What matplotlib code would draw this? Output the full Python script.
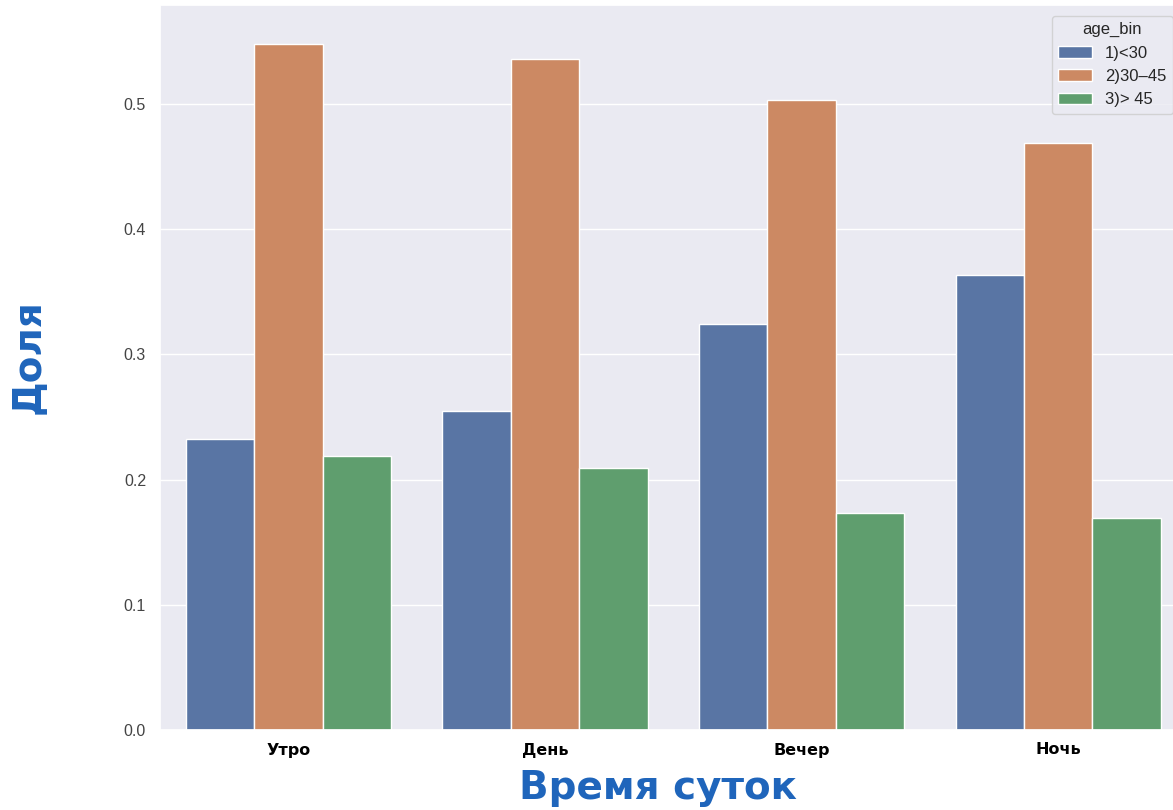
import matplotlib
matplotlib.use("Agg")
import matplotlib.pyplot as plt
import pandas as pd
import seaborn as sns

# Share of each age group by time of day
periods = ["Утро", "День", "Вечер", "Ночь"]
age_bins = ["1)<30", "2)30–45", "3)> 45"]
share_lt30 = [0.232, 0.255, 0.324, 0.363]
share_30_45 = [0.548, 0.536, 0.503, 0.469]
share_gt45 = [0.219, 0.209, 0.173, 0.169]

rows = []
for bin_name, values in zip(age_bins, [share_lt30, share_30_45, share_gt45]):
    for period, v in zip(periods, values):
        rows.append({"time": period, "age_bin": bin_name, "share": v})
df = pd.DataFrame(rows)

sns.set_theme(style="darkgrid")
plt.rcParams["font.family"] = ["Liberation Sans", "DejaVu Sans"]

W, H = 1173, 810
fig = plt.figure(figsize=(W / 100, H / 100), dpi=100)
ax = fig.add_axes([160 / W, 80 / H, (1186.5 - 160) / W, (730 - 5) / H])

sns.barplot(data=df, x="time", y="share", hue="age_bin", order=periods,
            hue_order=age_bins, ax=ax, errorbar=None)

ax.set_ylim(0, 0.579)
ax.set_xlim(-0.5, 3.5)
ax.set_yticks([0.0, 0.1, 0.2, 0.3, 0.4, 0.5])
ax.tick_params(axis="y", labelsize=11.5, labelcolor="#444444", pad=4)
ax.tick_params(axis="x", pad=3)
for lbl in ax.get_xticklabels():
    lbl.set_fontfamily("DejaVu Sans")
    lbl.set_fontweight("bold")
    lbl.set_fontsize(11.5)
    lbl.set_color("black")

ax.set_xlabel("")
ax.set_ylabel("")
label_style = dict(fontsize=28, fontweight="bold", family="DejaVu Sans", color="#1f65bb",
                   ha="center", va="center")
fig.text(658 / W, 1 - 788 / H, "Время суток", **label_style)
fig.text(29 / W, 1 - 357 / H, "Доля", rotation=90, **label_style)

leg = ax.legend(title="age_bin", loc="upper right", fontsize=12, title_fontsize=12,
                bbox_to_anchor=(0.995, 0.997))
leg.get_frame().set_edgecolor("#cccccc")

fig.savefig("out.png", dpi=100)
